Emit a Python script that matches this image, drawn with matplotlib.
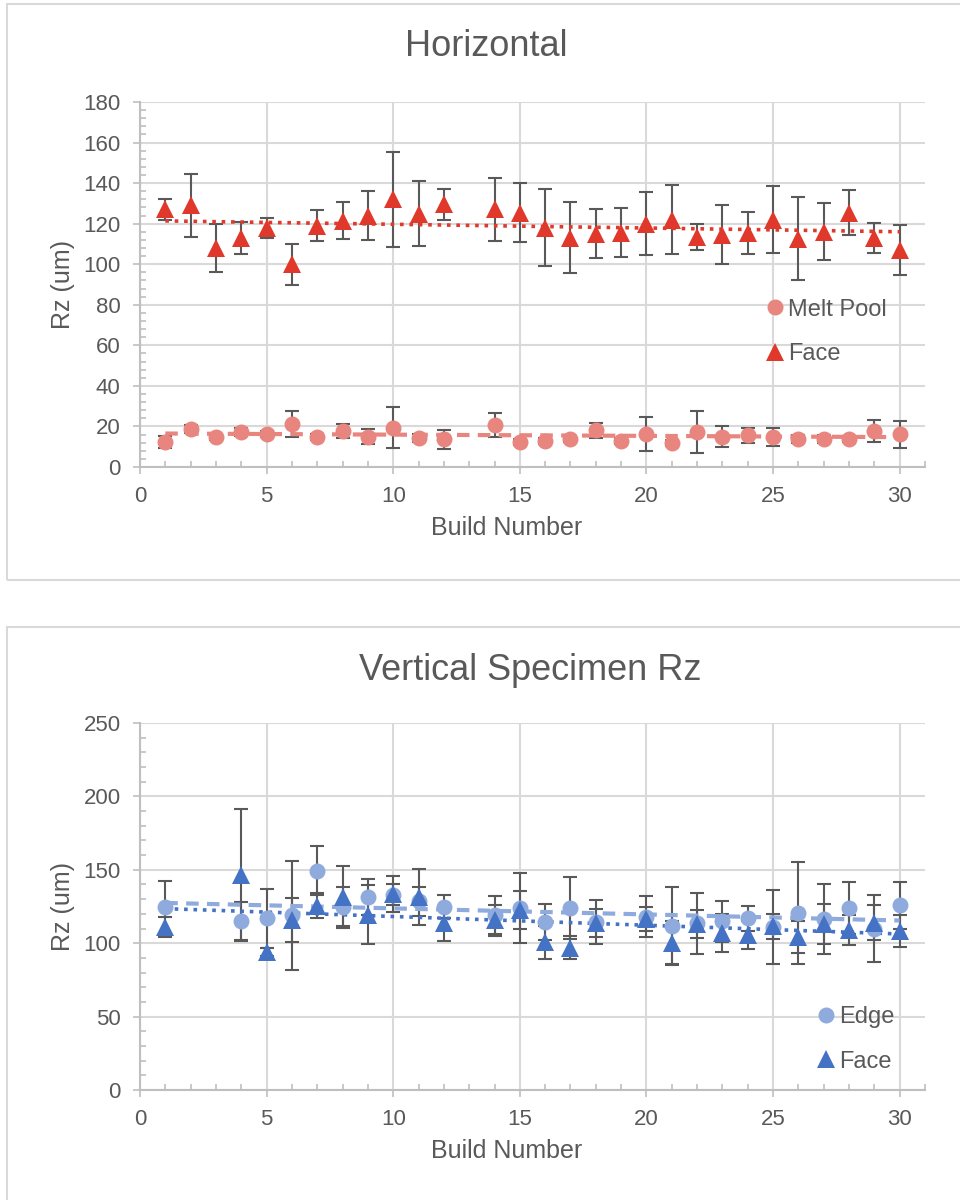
import numpy as np
import matplotlib
matplotlib.use("Agg")
import matplotlib.pyplot as plt
from matplotlib.patches import Rectangle
from matplotlib.ticker import MultipleLocator

plt.rcParams['font.family'] = ['Liberation Sans', 'DejaVu Sans']

# ---- Horizontal specimens ----
builds_h = [1, 2, 3, 4, 5, 6, 7, 8, 9, 10, 11, 12, 14, 15, 16, 17, 18, 19, 20,
            21, 22, 23, 24, 25, 26, 27, 28, 29, 30]
melt_h = [12.5, 18.6, 14.6, 17.4, 16.1, 21.2, 15, 17.8, 15, 19.4, 14.5, 13.7,
          20.7, 12.5, 13, 13.8, 18.2, 13, 16.3, 11.7, 17.1, 15, 15.6, 15, 13.8,
          13.7, 13.7, 17.9, 16.1]
melt_h_err = [3, 2, 1.5, 2, 1.5, 6.5, 1.5, 3.5, 3.5, 10, 2, 4.6, 5.8, 1.5, 1.5,
              1.5, 3.7, 1.5, 8.5, 1.5, 10.4, 5, 3.6, 4.4, 2, 2, 1.5, 5.5, 6.8]
face_h = [127, 129, 108, 113, 118, 100, 119, 121.5, 124, 132, 125, 129.5, 127,
          125.5, 118, 113, 115, 115.5, 120, 122, 113.5, 114.5, 115.5, 122, 112.5,
          116, 125.5, 113, 107]
face_h_err = [5, 15.5, 12, 8, 5, 10, 7.5, 9, 12, 23.5, 16, 7.5, 15.5, 14.5, 19,
              17.5, 12, 12, 15.5, 17, 6.5, 14.5, 10.5, 16.5, 20.5, 14, 11, 7.3, 12.4]

# ---- Vertical specimens ----
builds_v = [1, 4, 5, 6, 7, 8, 9, 10, 11, 12, 14, 15, 16, 17, 18, 20, 21, 22, 23,
            24, 25, 26, 27, 28, 29, 30]
edge_v = [124.5, 115, 117, 119, 149.5, 125, 131.5, 133, 128.5, 125, 119, 124,
          114.5, 124, 114.5, 118, 112, 113.5, 115, 117, 111, 120.5, 116.5, 124,
          110, 126]
edge_v_err = [18, 13, 20, 37, 16.5, 13, 12, 7, 10, 8, 13, 24, 12, 21, 15, 14,
              26.5, 21, 14, 8.5, 25, 35, 24, 18, 23, 16]
face_v = [111, 146.5, 94, 115.5, 125.5, 131.5, 119.5, 133.5, 131.5, 113.5, 115.5,
          122.5, 100.5, 97, 113.5, 116.5, 100, 113, 107, 105.5, 111.5, 104, 113,
          109, 114, 108.5]
face_v_err = [7, 45, 3, 15, 8.5, 21, 20, 12, 19, 12, 10.5, 13, 11, 8, 9.5, 8, 15,
              9.5, 13, 9.5, 8.5, 11, 13.5, 10, 12, 11]

TEXT = '#595959'
GRID = '#D9D9D9'
AXIS = '#BFBFBF'
ERR = '#595959'

fig = plt.figure(figsize=(9.6, 12), dpi=100)

# chart area borders
fig.patches.append(Rectangle((7 / 960, 1 - 580 / 1200), 1.0, 576 / 1200,
                             transform=fig.transFigure, fill=False,
                             edgecolor=GRID, linewidth=1.5))
fig.patches.append(Rectangle((7 / 960, -0.05), 1.0, 0.05 + 1 - 627 / 1200,
                             transform=fig.transFigure, fill=False,
                             edgecolor=GRID, linewidth=1.5))


def style_axes(ax, ymax, ymajor, yminor):
    ax.set_xlim(0, 31)
    ax.set_ylim(0, ymax)
    ax.xaxis.set_major_locator(MultipleLocator(5))
    ax.xaxis.set_minor_locator(MultipleLocator(1))
    ax.yaxis.set_major_locator(MultipleLocator(ymajor))
    ax.yaxis.set_minor_locator(MultipleLocator(yminor))
    ax.set_xticks(np.arange(0, 31, 5))
    for s in ['top', 'right']:
        ax.spines[s].set_visible(False)
    for s in ['left', 'bottom']:
        ax.spines[s].set_color(AXIS)
        ax.spines[s].set_linewidth(1.5)
    ax.grid(True, which='major', color=GRID, linewidth=1.5, zorder=0)
    ax.set_axisbelow(True)
    ax.tick_params(which='major', direction='out', length=5, width=1.2,
                   color=AXIS, labelsize=16, labelcolor=TEXT, pad=9)
    ax.tick_params(which='minor', direction='in', length=4, width=1.2,
                   color=AXIS)
    ax.set_xlabel('Build Number', fontsize=18, color=TEXT)
    ax.set_ylabel('Rz (um)', fontsize=18, color=TEXT)


def series(ax, x, y, err, color, marker, ms, trend_style, trend_lw, label):
    ax.errorbar(x, y, yerr=err, fmt='none', ecolor=ERR, elinewidth=1.5,
                capsize=5, capthick=1.5, zorder=2)
    # linear trendline
    k, b = np.polyfit(x, y, 1)
    xt = np.array([min(x), max(x)])
    ax.plot(xt, k * xt + b, linestyle=trend_style, color=color,
            linewidth=trend_lw, zorder=3)
    ax.plot(x, y, linestyle='none', marker=marker, markersize=ms,
            color=color, markeredgewidth=0, zorder=4, label=label)


# ---- top chart ----
ax1 = fig.add_axes([140 / 960, 1 - 467 / 1200, 785 / 960, 365 / 1200])
style_axes(ax1, 180, 20, 4)
series(ax1, builds_h, melt_h, melt_h_err, '#E9857F', 'o', 11.5,
       (0, (3, 2)), 3, 'Melt Pool')
series(ax1, builds_h, face_h, face_h_err, '#E0392C', '^', 12.5,
       (0, (1, 1.6)), 2.6, 'Face')
ax1.xaxis.set_label_coords((507 - 140) / 785, -49 / 365)
ax1.yaxis.set_label_coords(-0.083, 0.5)
ax1.legend(loc='center left', bbox_to_anchor=(0.796, 0.37), frameon=False,
           fontsize=17, labelcolor=TEXT, handlelength=0.9, handletextpad=0.1,
           borderpad=0, labelspacing=0.95, borderaxespad=0)
fig.text(0.507, 1 - 47 / 1200, 'Horizontal', fontsize=26, color=TEXT,
         ha='center', va='center')

# ---- bottom chart ----
ax2 = fig.add_axes([140 / 960, 1 - 1090 / 1200, 785 / 960, 367 / 1200])
style_axes(ax2, 250, 50, 10)
series(ax2, builds_v, edge_v, edge_v_err, '#8FAADC', 'o', 11.5,
       (0, (3, 2)), 3, 'Edge')
series(ax2, builds_v, face_v, face_v_err, '#4472C4', '^', 12.5,
       (0, (1, 1.6)), 2.6, 'Face')
ax2.xaxis.set_label_coords((507 - 140) / 785, -49 / 367)
ax2.yaxis.set_label_coords(-0.083, 0.5)
ax2.legend(loc='center left', bbox_to_anchor=(0.86, 0.138), frameon=False,
           fontsize=17, labelcolor=TEXT, handlelength=0.9, handletextpad=0.1,
           borderpad=0, labelspacing=0.95, borderaxespad=0)
fig.text(530 / 960, 1 - 670 / 1200, 'Vertical Specimen Rz', fontsize=26,
         color=TEXT, ha='center', va='center')

fig.savefig('out.png', dpi=100, facecolor='white')
